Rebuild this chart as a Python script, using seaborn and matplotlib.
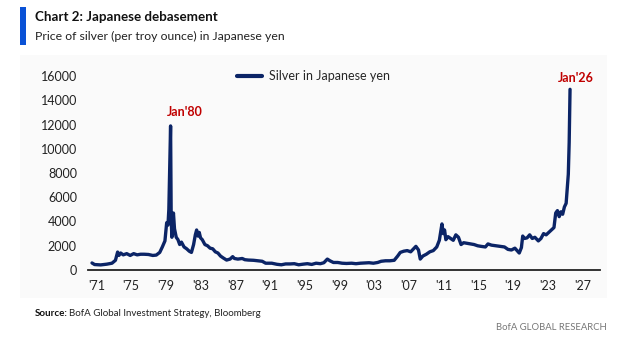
import matplotlib
matplotlib.use("Agg")
import matplotlib.pyplot as plt
import seaborn as sns
import pandas as pd
from matplotlib.patches import Rectangle

# ---- data ----
years = [1971.0, 1971.3, 1972.0, 1972.7, 1973.3, 1973.7, 1973.95, 1974.1, 1974.3, 1974.6,
         1975.0, 1975.4, 1975.8, 1976.2, 1976.6, 1977.0, 1977.5, 1978.0, 1978.4, 1978.8,
         1979.1, 1979.4, 1979.6, 1979.75, 1979.85, 1980.05, 1980.12, 1980.2, 1980.3, 1980.38,
         1980.5, 1980.7, 1980.9, 1981.1, 1981.3, 1981.6, 1981.9, 1982.2, 1982.45, 1982.7,
         1982.9, 1983.05, 1983.2, 1983.35, 1983.5, 1983.7, 1984.0, 1984.3, 1984.6, 1984.9,
         1985.2, 1985.5, 1985.8, 1986.1, 1986.5, 1986.9, 1987.2, 1987.4, 1987.8, 1988.3,
         1988.6, 1989.0, 1989.6, 1990.1, 1990.6, 1991.0, 1991.7, 1992.3, 1992.8, 1993.3,
         1993.8, 1994.3, 1994.8, 1995.3, 1995.8, 1996.3, 1996.8, 1997.3, 1997.7, 1998.1,
         1998.4, 1998.8, 1999.3, 1999.8, 2000.3, 2000.9, 2001.4, 2001.9, 2002.4, 2002.9,
         2003.4, 2003.9, 2004.3, 2004.8, 2005.3, 2005.8, 2006.2, 2006.5, 2006.9, 2007.3,
         2007.7, 2008.1, 2008.3, 2008.6, 2008.8, 2009.1, 2009.5, 2009.9, 2010.3, 2010.7,
         2011.0, 2011.3, 2011.45, 2011.6, 2011.75, 2012.0, 2012.3, 2012.6, 2012.9, 2013.2,
         2013.5, 2013.8, 2014.2, 2014.6, 2015.0, 2015.4, 2015.8, 2016.3, 2016.6, 2017.0,
         2017.5, 2018.0, 2018.5, 2018.9, 2019.3, 2019.7, 2020.2, 2020.45, 2020.6, 2020.8,
         2021.1, 2021.4, 2021.7, 2022.0, 2022.4, 2022.7, 2023.0, 2023.3, 2023.6, 2023.9,
         2024.2, 2024.4, 2024.6, 2024.8, 2025.0, 2025.2, 2025.4, 2025.6, 2025.75, 2025.85,
         2025.95, 2026.05]
silver_jpy = [580, 450, 420, 480, 560, 800, 1480, 1200, 1400, 1250,
              1350, 1200, 1350, 1250, 1300, 1300, 1280, 1200, 1230, 1450,
              1900, 2400, 3900, 3700, 5000, 11880, 4200, 2700, 4000, 4700,
              3400, 2700, 2500, 2100, 2300, 1900, 1750, 1550, 1450, 2100,
              2900, 3300, 2800, 3100, 2650, 2500, 2100, 2000, 1800, 1750,
              1500, 1400, 1150, 1000, 820, 900, 1100, 950, 900, 950,
              850, 820, 800, 760, 720, 560, 560, 470, 430, 500,
              500, 520, 430, 480, 520, 460, 560, 520, 600, 900,
              760, 620, 620, 560, 540, 560, 520, 560, 580, 600,
              560, 620, 720, 760, 760, 800, 1150, 1450, 1550, 1600,
              1500, 1800, 1950, 1650, 900, 1150, 1300, 1500, 1600, 1900,
              2450, 3800, 3000, 3300, 2500, 2750, 2600, 2450, 2900, 2700,
              2100, 2250, 2200, 2150, 2100, 2000, 1950, 1900, 2150, 2050,
              2000, 1950, 1900, 1700, 1650, 1800, 1400, 1850, 2800, 2600,
              2650, 2900, 2600, 2700, 2400, 2600, 3000, 2900, 3100, 3300,
              3500, 4700, 4900, 4400, 4800, 4600, 5200, 5500, 6900, 7900,
              10500, 14900]
tick_years = list(range(1971, 2028, 4))
tick_labels = ["'" + str(y)[2:] for y in tick_years]
y_ticks = [0, 2000, 4000, 6000, 8000, 10000, 12000, 14000, 16000]

df = pd.DataFrame({"year": years, "Silver in Japanese yen": silver_jpy})

sns.set_theme(style="white")
plt.rcParams['font.family'] = ['Lato', 'DejaVu Sans']
hfont = ["Lato", "DejaVu Sans"]

W, H = 627, 340
fig = plt.figure(figsize=(W / 100, H / 100), dpi=100)
fig.patch.set_facecolor("white")

# faint panel behind the chart
bg = fig.add_axes([20 / W, 1 - 298 / H, 587 / W, 243 / H], zorder=-5)
bg.set_facecolor("#fafafa")
bg.set_xticks([]); bg.set_yticks([])
for s in bg.spines.values():
    s.set_visible(False)

ax = fig.add_axes([88 / W, 1 - 270 / H, 512 / W, 194 / H], zorder=1)
ax.set_facecolor("none")
navy = "#0b2466"
sns.lineplot(data=df, x="year", y="Silver in Japanese yen", ax=ax, color=navy, linewidth=2.4,
             label="Silver in Japanese yen")

ax.set_xlim(1970.54, 2029.5)
ax.set_ylim(0, 16000)
# labels centred on each year's span (date-axis style)
ax.set_xticks([y + 0.5 for y in tick_years])
ax.set_xticklabels(tick_labels)
ax.set_yticks(y_ticks)
ax.set_yticklabels([str(v) for v in y_ticks])
ax.tick_params(axis="both", labelsize=9, colors="#222222", length=0)
ax.tick_params(axis="x", pad=7)
ax.tick_params(axis="y", pad=8)
ax.set_xlabel("")
ax.set_ylabel("")
for s in ["top", "right", "left"]:
    ax.spines[s].set_visible(False)
ax.spines["bottom"].set_color("#222222")
ax.spines["bottom"].set_linewidth(1.3)
ax.grid(False)

leg = ax.legend(loc="center", bbox_to_anchor=(0.44, 1.0), frameon=False, fontsize=9,
                handlelength=2.0, handletextpad=0.6)
for line in leg.get_lines():
    line.set_linewidth(3)

red = "#c00000"
ax.text(1981.7, 13035, "Jan'80", color=red, fontsize=9, fontweight="bold", ha="center", va="center")
ax.text(2026.76, 15840, "Jan'26", color=red, fontsize=9, fontweight="bold", ha="center", va="center",
        clip_on=False)

# header
fig.patches.append(Rectangle((20 / W, 1 - 45 / H), 6 / W, 38 / H, transform=fig.transFigure,
                             facecolor="#0a52d6", edgecolor="none"))
t_title = fig.text(35 / W, 1 - 17 / H, "Chart 2: Japanese debasement", fontsize=11, fontweight="bold",
                   color="#111111", va="center", ha="left", family=hfont)
t_sub = fig.text(35 / W, 1 - 36 / H, "Price of silver (per troy ounce) in Japanese yen", fontsize=10.5,
                 color="#222222", va="center", ha="left", family=hfont)

# footer
t_src_b = fig.text(35 / W, 1 - 313 / H, "Source:", fontsize=8, fontweight="bold", color="#111111",
                   va="center", ha="left", family=hfont)
t_src = fig.text(75 / W, 1 - 313 / H, "BofA Global Investment Strategy, Bloomberg", fontsize=8,
                 color="#222222", va="center", ha="left", family=hfont)
t_bofa = fig.text(607 / W, 1 - 327 / H, "BofA GLOBAL RESEARCH", fontsize=8, color="#777777",
                  va="center", ha="right", family=hfont)

fig.canvas.draw()
r = fig.canvas.get_renderer()


def fit(t, target):
    w = t.get_window_extent(r).width
    t.set_fontsize(t.get_fontsize() * target / w)


fit(t_title, 182)
fit(t_sub, 252)
fit(t_bofa, 110)
# source line: total width 227 px
wb = t_src_b.get_window_extent(r).width
ws = t_src.get_window_extent(r).width
k = (227 - 2) / (wb + ws)
t_src_b.set_fontsize(t_src_b.get_fontsize() * k)
t_src.set_fontsize(t_src.get_fontsize() * k)
t_src.set_x((35 + wb * k + 2) / W)

fig.savefig("out.png", dpi=100)
